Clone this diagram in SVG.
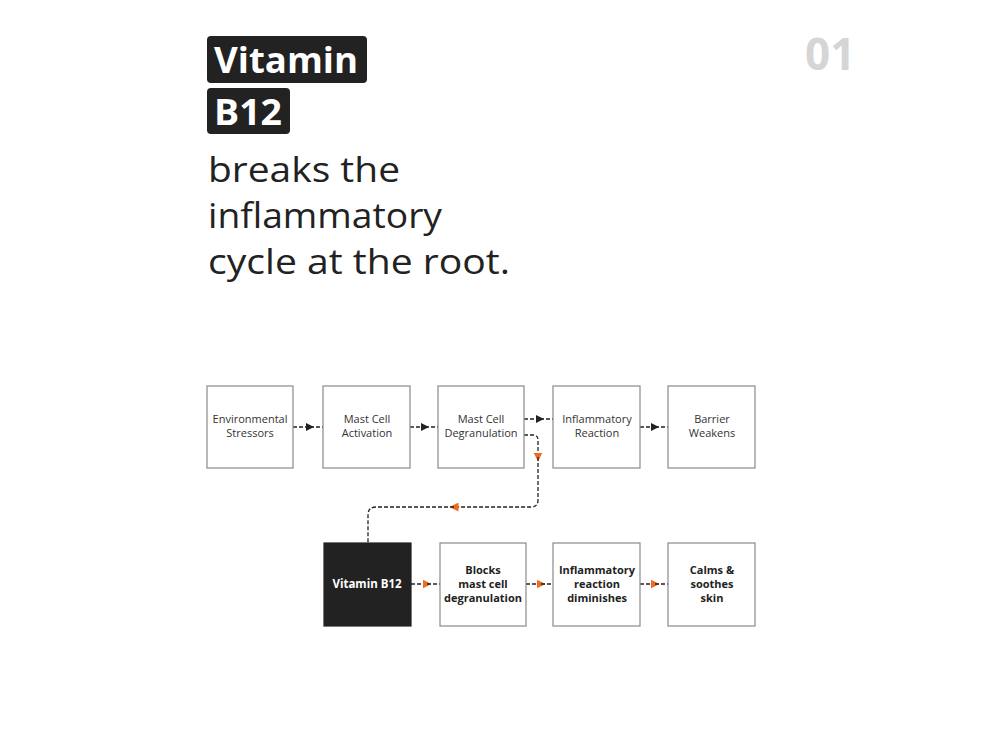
<svg xmlns="http://www.w3.org/2000/svg" width="1000" height="750" viewBox="0 0 1000 750">
<style>
.bg{fill:#ffffff}
.node{fill:#ffffff;stroke:#8a8a8a;stroke-width:1.2}
.dark{fill:#222222;stroke:#222222;stroke-width:1.2}
.t{font-family:"Open Sans",Lato,sans-serif;font-size:11px;fill:#333333;text-anchor:middle}
.tb{font-family:"Open Sans",Lato,sans-serif;font-size:11px;font-weight:700;fill:#222222;text-anchor:middle}
.tw{font-family:"Open Sans",Lato,sans-serif;font-size:11.5px;font-weight:700;fill:#ffffff;text-anchor:middle}
.head{font-family:"Open Sans",Lato,sans-serif;font-size:35px;fill:#222222}
.headw{font-family:"Open Sans",Lato,sans-serif;font-size:36px;font-weight:700;fill:#ffffff}
.num{font-family:"Open Sans",Lato,sans-serif;font-size:44px;font-weight:700;fill:#d5d5d5}
.c{fill:none;stroke:#222222;stroke-width:1.3;stroke-dasharray:4 2}
</style>
<defs>
<marker id="ab" viewBox="0 0 10 10" refX="5" refY="5" markerWidth="8" markerHeight="8" markerUnits="userSpaceOnUse" orient="auto"><path d="M0,0 L10,5 L0,10 z" fill="#222222"/></marker>
<marker id="ao" viewBox="0 0 10 10" refX="5" refY="5" markerWidth="9" markerHeight="9" markerUnits="userSpaceOnUse" orient="auto"><path d="M0,0 L10,5 L0,10 z" fill="#f06a1e"/></marker>
</defs>
<rect class="bg" x="0" y="0" width="1000" height="750"/>

<g id="title">
<rect x="207" y="36" width="160" height="47" rx="4" fill="#222222"/>
<text class="headw" x="214" y="73" textLength="144" lengthAdjust="spacingAndGlyphs">Vitamin</text>
<rect x="207" y="88" width="83" height="46" rx="4" fill="#222222"/>
<text class="headw" x="214" y="125" textLength="68" lengthAdjust="spacingAndGlyphs">B12</text>
<text class="head" x="208" y="182" textLength="192" lengthAdjust="spacingAndGlyphs">breaks the</text>
<text class="head" x="208" y="228" textLength="234" lengthAdjust="spacingAndGlyphs">inflammatory</text>
<text class="head" x="208" y="274" textLength="302" lengthAdjust="spacingAndGlyphs">cycle at the root.</text>
</g>
<g id="page-number"><text class="num" x="805" y="70">01</text></g>

<g id="connectors">
<path class="c" d="M293,427 L310,427" marker-end="url(#ab)"/><path class="c" d="M310,427 L323,427"/>
<path class="c" d="M410,427 L425,427" marker-end="url(#ab)"/><path class="c" d="M425,427 L438,427"/>
<path class="c" d="M524,419 L540,419" marker-end="url(#ab)"/><path class="c" d="M540,419 L553,419"/>
<path class="c" d="M640,427 L655,427" marker-end="url(#ab)"/><path class="c" d="M655,427 L668,427"/>
<path class="c" d="M524,435 L533,435 Q538,435 538,440 L538,457" marker-end="url(#ao)"/>
<path class="c" d="M538,457 L538,500 Q538,507 531,507 L454,507" marker-end="url(#ao)"/>
<path class="c" d="M454,507 L376,507 Q368,507 368,515 L368,543"/>
<path class="c" d="M411,584 L427,584" marker-end="url(#ao)"/><path class="c" d="M427,584 L440,584"/>
<path class="c" d="M526,584 L541,584" marker-end="url(#ao)"/><path class="c" d="M541,584 L553,584"/>
<path class="c" d="M640,584 L655,584" marker-end="url(#ao)"/><path class="c" d="M655,584 L668,584"/>
</g>

<g id="n1"><rect class="node" x="207" y="386" width="86" height="82"/><text class="t" x="250" y="423">Environmental</text><text class="t" x="250" y="437">Stressors</text></g>
<g id="n2"><rect class="node" x="323" y="386" width="87" height="82"/><text class="t" x="367" y="423">Mast Cell</text><text class="t" x="367" y="437">Activation</text></g>
<g id="n3"><rect class="node" x="438" y="386" width="86" height="82"/><text class="t" x="481" y="423">Mast Cell</text><text class="t" x="481" y="437">Degranulation</text></g>
<g id="n4"><rect class="node" x="553" y="386" width="87" height="82"/><text class="t" x="597" y="423">Inflammatory</text><text class="t" x="597" y="437">Reaction</text></g>
<g id="n5"><rect class="node" x="668" y="386" width="87" height="82"/><text class="t" x="712" y="423">Barrier</text><text class="t" x="712" y="437">Weakens</text></g>

<g id="b1"><rect class="dark" x="324" y="543" width="87" height="83"/><text class="tw" x="367" y="588">Vitamin B12</text></g>
<g id="b2"><rect class="node" x="440" y="543" width="86" height="83"/><text class="tb" x="483" y="574">Blocks</text><text class="tb" x="483" y="588">mast cell</text><text class="tb" x="483" y="602">degranulation</text></g>
<g id="b3"><rect class="node" x="553" y="543" width="87" height="83"/><text class="tb" x="597" y="574">Inflammatory</text><text class="tb" x="597" y="588">reaction</text><text class="tb" x="597" y="602">diminishes</text></g>
<g id="b4"><rect class="node" x="668" y="543" width="87" height="83"/><text class="tb" x="712" y="574">Calms &amp;</text><text class="tb" x="712" y="588">soothes</text><text class="tb" x="712" y="602">skin</text></g>
</svg>
